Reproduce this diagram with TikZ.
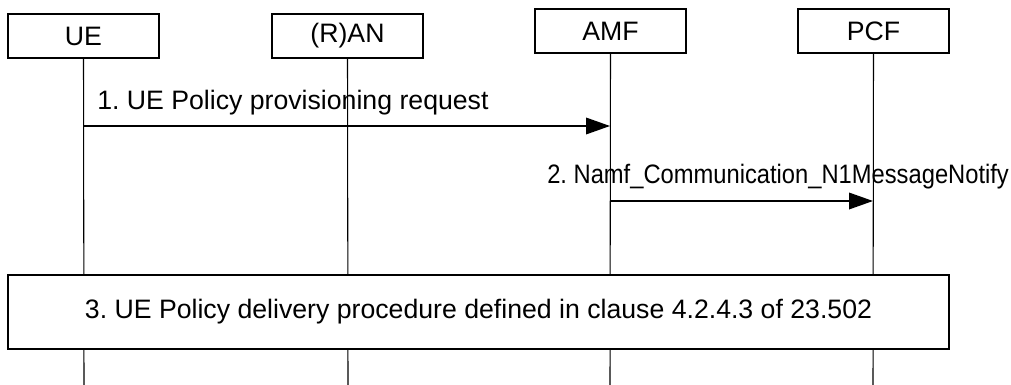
\documentclass[tikz,border=0pt]{standalone}
\usepackage{fontspec}
\setmainfont{Liberation Sans}
\frenchspacing
\usetikzlibrary{arrows.meta}
\begin{document}
\begin{tikzpicture}[x=0.75pt,y=-0.75pt,
  every node/.style={font=\fontsize{20}{23}\selectfont, inner sep=0pt},
  entity/.style={draw, line width=0.9pt, minimum width=151*0.75pt, minimum height=44*0.75pt, fill=white},
  life/.style={line width=0.8pt},
  msg/.style={line width=1pt, -{Triangle[length=18pt,width=12.5pt]}},
  lbl/.style={anchor=base west}]
\useasboundingbox (0,0) rectangle (1011,385);
\node[entity] (ue)  at (83.5,36)  {UE};
\node[entity] (ran) at (347.5,36) {(R)AN};
\node[entity] (amf) at (610.5,31) {AMF};
\node[entity] (pcf) at (873.5,31) {PCF};
\coordinate (ueE)  at (84,385);
\coordinate (ranE) at (348,385);
\coordinate (amfE) at (610,385);
\coordinate (pcfE) at (873,385);
\draw[life] (ue.south) -- (ueE);
\draw[life] (ran.south) -- (ranE);
\draw[life] (amf.south) -- (amfE);
\draw[life] (pcf.south) -- (pcfE);
\coordinate (m1s) at (84,126);
\coordinate (m1e) at (610,126);
\draw[msg] (m1s) -- (m1e);
\node[lbl] (l1) at (97,109) {1. UE Policy provisioning request};
\coordinate (m2s) at (610,201);
\coordinate (m2e) at (873,201);
\draw[msg] (m2s) -- (m2e);
\node[lbl] (l2) at (547,183) {\scalebox{0.89}[1]{2. Namf\_Communication\_N1MessageNotify}};
\node[draw, line width=0.9pt, fill=white, minimum width=941*0.75pt, minimum height=74*0.75pt] (p3) at (478.5,312) {3. UE Policy delivery procedure defined in clause 4.2.4.3 of 23.502};
\end{tikzpicture}
\end{document}
